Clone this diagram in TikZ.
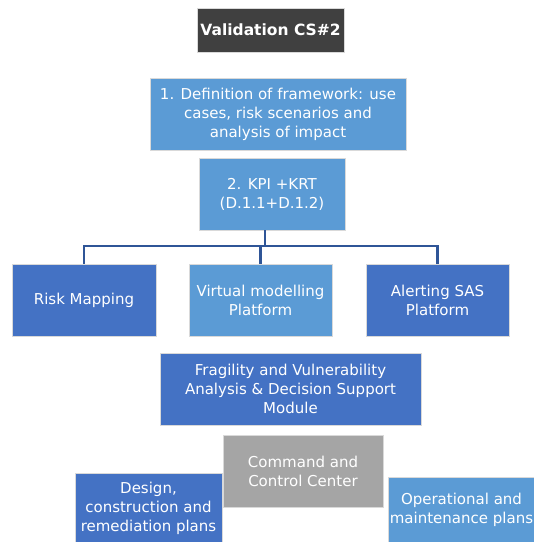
\documentclass[tikz,border=0pt]{standalone}
\usepackage{fontspec}
\setmainfont{DejaVu Sans}
\definecolor{titlegray}{HTML}{404040}
\definecolor{lightblue}{HTML}{5B9BD5}
\definecolor{midblue}{HTML}{4472C4}
\definecolor{midgray}{HTML}{A5A5A5}
\definecolor{linkblue}{HTML}{2F5597}
\begin{document}
\begin{tikzpicture}[x=1pt,y=-1pt,
  box/.style={draw=white!85!black, line width=0.6pt, text=white, align=center,
    inner sep=0pt, font=\fontsize{15}{19}\selectfont},
  link/.style={draw=linkblue, line width=2.6pt}]
\useasboundingbox (0,0) rectangle (534,542);

% title
\node[box, fill=titlegray, minimum width=147pt, minimum height=44pt,
  font=\fontsize{15.5}{18}\selectfont\bfseries] (title) at (270.5,30) {Validation CS\#2};

% framework steps
\node[box, fill=lightblue, minimum width=256pt, minimum height=72pt] (def) at (278,114)
  {1. Definition of framework: use\\cases, risk scenarios and\\analysis of impact};
\node[box, fill=lightblue, minimum width=146pt, minimum height=72pt] (kpi) at (272,194)
  {2. KPI +KRT\\(D.1.1+D.1.2)};

% platforms
\node[box, fill=midblue, minimum width=144pt, minimum height=72pt] (risk) at (84,300) {Risk Mapping};
\node[box, fill=lightblue, minimum width=143pt, minimum height=72pt] (virt) at (260.5,300)
  {Virtual modelling\\Platform};
\node[box, fill=midblue, minimum width=143pt, minimum height=72pt] (alert) at (437.5,300)
  {Alerting SAS\\Platform};

% analysis and control
\node[box, fill=midblue, minimum width=261pt, minimum height=72pt] (frag) at (290.5,389)
  {Fragility and Vulnerability\\Analysis \& Decision Support\\Module};
\node[box, fill=midgray, minimum width=160pt, minimum height=72pt] (cmd) at (303,471)
  {Command and\\Control Center};

% plans
\node[box, fill=midblue, minimum width=147pt, minimum height=70pt] (design) at (148.5,508)
  {Design,\\construction and\\remediation plans};
\node[box, fill=lightblue, minimum width=147pt, minimum height=66pt] (oper) at (461.5,510)
  {Operational and\\maintenance plans};

% connectors from KPI to platforms
\coordinate (hub) at (265,246);
\draw[link] (kpi.south -| hub) -- (hub);
\draw[link] (risk.north) -- (risk.north |- hub) -- (alert.north |- hub) -- (alert.north);
\draw[link] (virt.north) -- (virt.north |- hub);
\end{tikzpicture}
\end{document}
